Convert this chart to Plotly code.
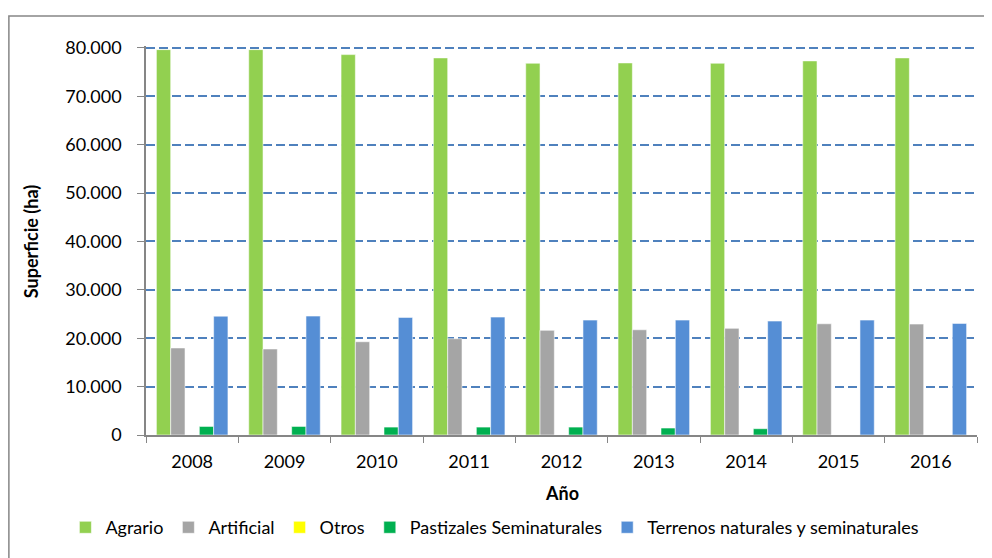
import plotly.graph_objects as go

years = ["2008", "2009", "2010", "2011", "2012", "2013", "2014", "2015", "2016"]
agrario = [79650, 79650, 78620, 77940, 76840, 76900, 76840, 77320, 77940]
artificial = [17990, 17780, 19280, 19900, 21630, 21750, 22040, 22990, 22930]
otros = [0, 0, 0, 0, 0, 0, 0, 0, 0]
pastizales = [1770, 1770, 1640, 1640, 1640, 1440, 1300, 0, 0]
terrenos = [24560, 24580, 24310, 24370, 23750, 23750, 23550, 23750, 23070]

series = [
    ("Agrario", agrario, "#92D050"),
    ("Artificial", artificial, "#A5A5A5"),
    ("Otros", otros, "#FFFF00"),
    ("Pastizales Seminaturales", pastizales, "#00B050"),
    ("Terrenos naturales y seminaturales", terrenos, "#558ED5"),
]

FONT = "Lato, 'Open Sans', sans-serif"
AXIS = "#868686"

fig = go.Figure()
for name, vals, col in series:
    fig.add_trace(go.Bar(
        x=years, y=vals, name=name,
        marker=dict(color=col, line=dict(color="rgba(255,255,255,0.55)", width=1)),
    ))

# page body has an 8px margin, so the figure is 8px smaller than the window
fig.update_layout(
    width=984, height=550,
    barmode="group", bargap=0.225, bargroupgap=0,
    separators=",.",
    font=dict(family=FONT, size=18, color="#000"),
    margin=dict(l=138, r=15, t=38, b=120),
    paper_bgcolor="white", plot_bgcolor="white",
    xaxis=dict(
        type="category", showline=True, linecolor=AXIS, linewidth=1.5,
        ticks="outside", tickson="boundaries", ticklen=6, tickcolor=AXIS,
        ticklabelstandoff=10, tickfont=dict(size=18),
    ),
    yaxis=dict(
        range=[0, 80400], tickvals=[0, 10000, 20000, 30000, 40000, 50000, 60000, 70000, 80000],
        tickformat=",.0f",
        showline=True, linecolor=AXIS, linewidth=1.5,
        ticks="outside", ticklen=7, tickcolor=AXIS, ticklabelstandoff=12,
        showgrid=True, gridcolor="#4F81BD", gridwidth=1.5, griddash="9px,4px",
        zeroline=False, tickfont=dict(size=18),
    ),
    legend=dict(
        orientation="h", x=-0.097, xanchor="left", y=-0.238, yanchor="middle",
        font=dict(size=18), itemwidth=30, traceorder="normal",
    ),
    annotations=[
        dict(text="<b>Superficie (ha)</b>", xref="paper", yref="paper",
             x=-0.139, y=0.497, xanchor="center", yanchor="middle",
             textangle=-90, showarrow=False, font=dict(size=18)),
        dict(text="<b>Año</b>", xref="paper", yref="paper",
             x=0.5, y=-0.15, xanchor="center", yanchor="middle",
             showarrow=False, font=dict(size=18)),
    ],
    shapes=[
        dict(type="rect", xref="paper", yref="paper",
             x0=-0.165, x1=1.2, y0=-0.5, y1=1.077,
             line=dict(color=AXIS, width=1.5), layer="below"),
    ],
)

fig.write_html("out.html")
